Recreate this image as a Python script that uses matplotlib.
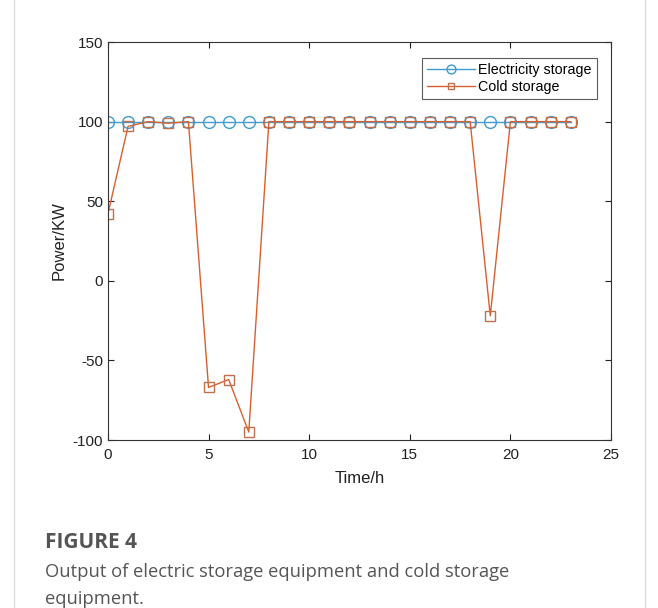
import matplotlib
matplotlib.use("Agg")
import matplotlib.pyplot as plt
from matplotlib.patches import Rectangle

hours = list(range(24))
elec_storage = [100] * 24
cold_storage = [42, 97, 100, 99, 100, -67, -62, -95, 100, 100, 100, 100,
                100, 100, 100, 100, 100, 100, 100, -22, 100, 100, 100, 100]

plt.rcParams['font.family'] = ['Liberation Sans', 'DejaVu Sans']
plt.rcParams['axes.unicode_minus'] = False

fig = plt.figure(figsize=(6.58, 6.08), dpi=100)
ax = fig.add_axes([0.164, 0.2763, 0.7646, 0.6546])

ax.plot(hours, elec_storage, color='#3f9bd0', lw=1.0, marker='o', ms=8.5,
        mfc='none', mec='#3f9bd0', mew=1.0, label='Electricity storage')
ax.plot(hours, cold_storage, color='#d9602e', lw=1.0, marker='s', ms=6.5,
        mfc='none', mec='#c0704a', mew=1.0, label='Cold storage')

ax.set_xlim(0, 25)
ax.set_ylim(-100, 150)
ax.set_xticks([0, 5, 10, 15, 20, 25])
ax.set_yticks([-100, -50, 0, 50, 100, 150])
ax.tick_params(direction='in', top=True, right=True, labelsize=11, length=4,
               width=0.8, colors='#222222')
ax.tick_params(axis='x', pad=6)
for s in ax.spines.values():
    s.set_linewidth(0.8)
    s.set_color('#333333')
ax.set_xlabel('Time/h', fontsize=12, color='#222222', labelpad=6)
ax.set_ylabel('Power/KW', fontsize=12, color='#222222', labelpad=4)

leg = ax.legend(loc='upper right', bbox_to_anchor=(0.977, 0.966), fontsize=10.3,
                frameon=True, fancybox=False, edgecolor='#333333',
                handlelength=3.4, borderpad=0.35, labelspacing=0.2,
                handletextpad=0.2, borderaxespad=0.2, markerscale=0.75)
leg.get_frame().set_linewidth(0.8)

# outer frame of the figure panel
fig.patches.append(Rectangle((14 / 658, -0.01), 631 / 658, 1.02,
                             transform=fig.transFigure, fill=False,
                             edgecolor='#dddddd', lw=1.0))

cap_font = ['Open Sans', 'DejaVu Sans']
fig.text(45 / 658, 1 - 543 / 608, 'FIGURE 4', fontsize=15, fontweight='bold',
         color='#555555', family=cap_font, va='center')
fig.text(45 / 658, 1 - 572 / 608,
         'Output of electric storage equipment and cold storage',
         fontsize=13.2, color='#555555', family=cap_font, va='center')
fig.text(45 / 658, 1 - 599 / 608, 'equipment.',
         fontsize=13.2, color='#555555', family=cap_font, va='center')

fig.savefig('out.png', dpi=100)
